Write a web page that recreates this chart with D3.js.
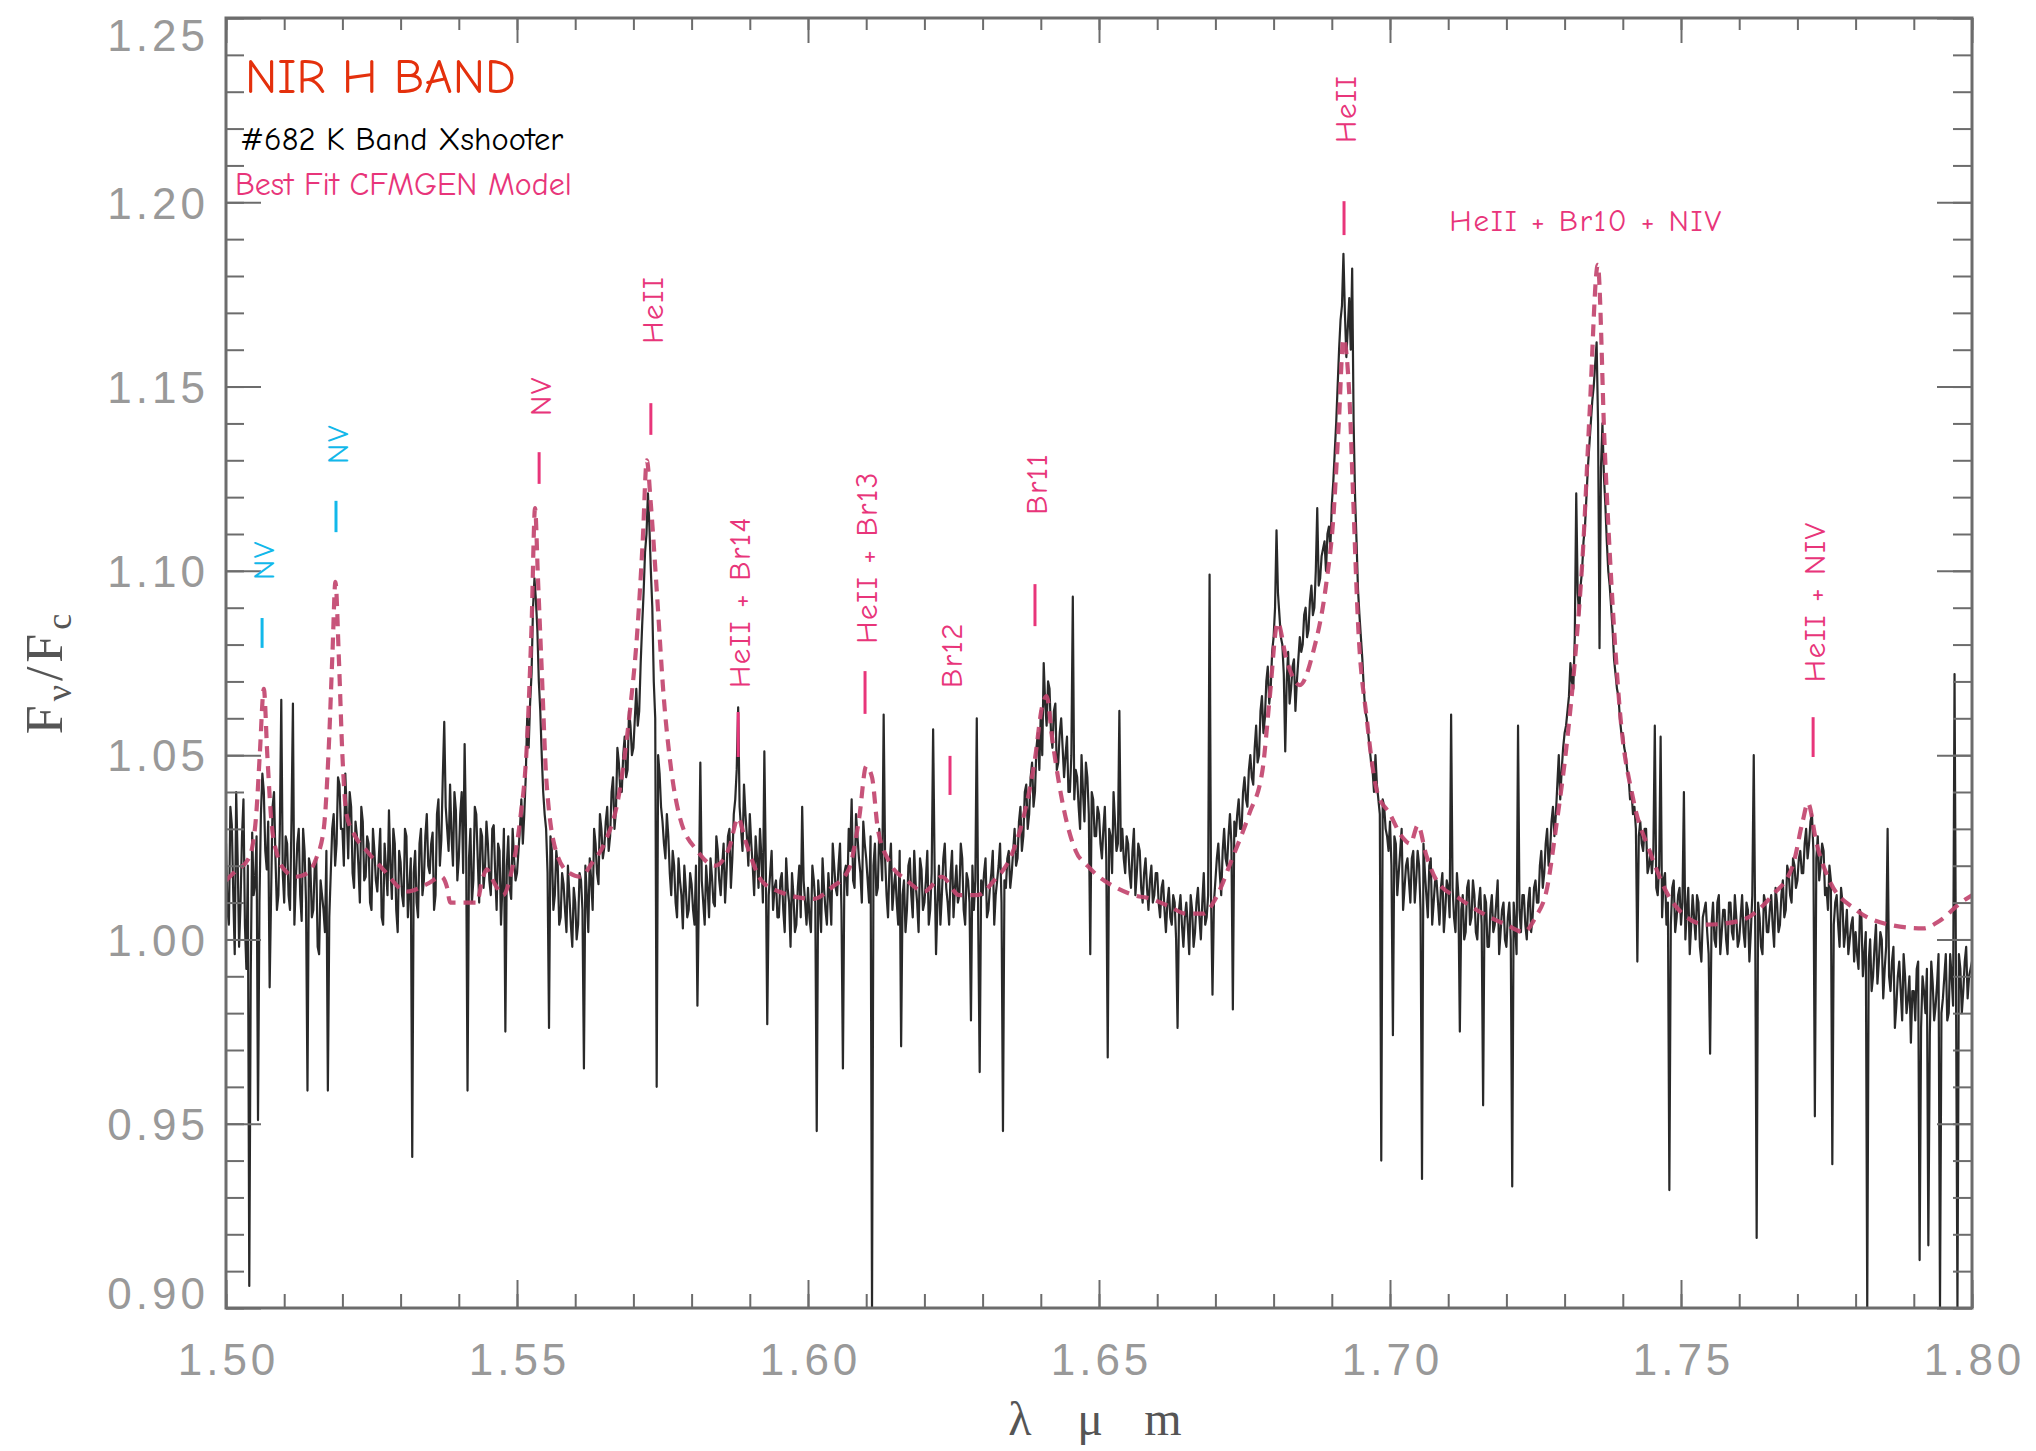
<!DOCTYPE html>
<html>
<head>
<meta charset="utf-8">
<script src="https://cdn.jsdelivr.net/npm/d3@7"></script>
<style>
  html, body { margin: 0; padding: 0; background: #ffffff; }
  svg { display: block; }
</style>
</head>
<body>
<svg id="chart" width="2036" height="1451"></svg>
<script>
// ---------------- data ----------------
// Observed spectrum (#682, X-shooter). Two interleaved sample grids:
// grid A starts at 1.50000, grid B at 1.50025, both with a 0.0005 micron step.
const obsStep = 0.0005;
const obsStartA = 1.50000;
const obsFluxA = [
  1.026, 1.004, 1.031, 0.996, 1.022, 1.010, 1.038, 0.992, 0.906, 1.029,
  1.015, 0.951, 1.034, 1.040, 1.019, 0.987, 1.036, 1.022, 1.012, 1.065,
  1.010, 1.026, 1.008, 1.064, 1.016, 1.030, 1.005, 1.024, 0.959, 1.020,
  1.008, 1.022, 0.996, 1.012, 1.002, 0.959, 1.018, 1.034, 1.026, 1.042,
  1.030, 1.045, 1.022, 1.036, 1.014, 1.028, 1.010, 1.032, 1.017, 1.026,
  1.008, 1.024, 1.013, 1.030, 1.004, 1.019, 1.035, 1.011, 1.026, 1.002,
  1.021, 1.009, 1.028, 1.014, 0.941, 1.024, 1.006, 1.030, 1.016, 1.034,
  1.018, 1.029, 1.012, 1.038, 1.027, 1.059, 1.030, 1.042, 1.020, 1.035,
  1.022, 1.040, 1.053, 0.959, 1.030, 1.016, 1.034, 1.010, 1.028, 1.019,
  1.026, 1.012, 1.031, 1.008, 1.024, 1.015, 0.975, 1.028, 1.011, 1.022,
  1.018, 1.030, 1.026, 1.044, 1.052, 1.072, 1.098, 1.084, 1.062, 1.040,
  1.030, 0.976, 1.024, 1.012, 1.020, 1.006, 1.015, 1.002, 1.012, 0.998,
  1.010, 1.004, 1.016, 0.965, 1.012, 1.022, 1.008, 1.026, 1.015, 1.030,
  1.025, 1.036, 1.028, 1.044, 1.035, 1.048, 1.040, 1.055, 1.046, 1.058,
  1.052, 1.068, 1.062, 1.085, 1.105, 1.121, 1.100, 1.070, 0.960, 1.045,
  1.032, 1.022, 1.028, 1.012, 1.020, 1.006, 1.016, 1.003, 1.014, 1.008,
  1.015, 1.004, 0.982, 1.048, 1.010, 1.020, 1.006, 1.017, 1.009, 1.024,
  1.012, 1.026, 1.018, 1.030, 1.022, 1.038, 1.063, 1.030, 1.042, 1.028,
  1.034, 1.020, 1.028, 1.014, 1.022, 1.051, 0.977, 1.018, 1.008, 1.016,
  1.006, 1.018, 1.002, 1.014, 0.998, 1.012, 1.004, 1.020, 1.036, 1.010,
  1.014, 1.002, 1.016, 0.948, 1.010, 1.022, 1.008, 1.018, 1.004, 1.020,
  1.012, 1.026, 0.965, 1.020, 1.030, 1.038, 1.014, 1.028, 1.018, 1.032,
  1.022, 1.010, 0.900, 1.026, 1.014, 1.024, 1.061, 1.012, 1.020, 1.008,
  1.018, 1.004, 0.971, 1.016, 1.008, 1.022, 1.006, 1.015, 1.002, 1.019,
  1.010, 1.024, 1.008, 1.057, 0.996, 1.020, 1.012, 1.026, 1.010, 1.018,
  1.006, 1.020, 1.012, 1.022, 1.004, 1.016, 0.978, 1.008, 1.060, 0.964,
  1.012, 1.022, 1.008, 1.018, 1.004, 1.016, 1.026, 0.948, 1.014, 1.024,
  1.018, 1.030, 1.022, 1.036, 1.028, 1.042, 1.034, 1.048, 1.040, 1.056,
  1.062, 1.075, 1.058, 1.068, 1.052, 1.064, 1.048, 1.060, 1.044, 1.055,
  1.040, 1.093, 1.046, 1.036, 1.050, 1.032, 1.044, 0.996, 1.038, 1.028,
  1.034, 1.022, 1.036, 0.968, 1.028, 1.040, 1.024, 1.062, 1.030, 1.018,
  1.026, 1.014, 1.030, 1.018, 1.024, 1.010, 1.022, 1.008, 1.020, 1.012,
  1.018, 1.006, 1.016, 1.002, 1.014, 1.004, 1.010, 0.976, 1.012, 0.998,
  1.010, 0.996, 1.008, 1.002, 1.014, 1.000, 1.018, 1.006, 1.099, 0.985,
  1.016, 1.026, 1.012, 1.030, 1.020, 1.034, 0.981, 1.028, 1.038, 1.030,
  1.044, 1.036, 1.050, 1.042, 1.058, 1.050, 1.066, 1.060, 1.074, 1.068,
  1.082, 1.111, 1.088, 1.080, 1.051, 1.078, 1.068, 1.076, 1.070, 1.082,
  1.080, 1.090, 1.084, 1.096, 1.090, 1.117, 1.098, 1.106, 1.100, 1.112,
  1.118, 1.132, 1.150, 1.168, 1.186, 1.158, 1.174, 1.182, 1.120, 1.095,
  1.082, 1.068, 1.060, 1.052, 1.046, 1.050, 1.038, 0.940, 1.036, 1.028,
  1.032, 0.974, 1.026, 1.018, 1.030, 1.014, 1.022, 1.010, 1.024, 1.016,
  1.020, 0.935, 1.018, 1.006, 1.022, 1.010, 1.016, 1.004, 1.018, 1.008,
  1.014, 1.061, 1.006, 1.018, 0.975, 1.012, 1.002, 1.016, 1.006, 1.012,
  1.000, 1.014, 0.955, 1.010, 0.998, 1.012, 1.004, 1.016, 1.002, 1.010,
  0.998, 1.010, 0.933, 1.004, 1.058, 1.002, 1.012, 1.000, 1.014, 1.006,
  1.016, 1.010, 1.024, 1.018, 1.030, 1.024, 1.036, 1.034, 1.050, 1.046,
  1.056, 1.062, 1.075, 1.068, 1.121, 1.088, 1.100, 1.112, 1.128, 1.140,
  1.150, 1.162, 1.079, 1.140, 1.118, 1.100, 1.090, 1.076, 1.068, 1.060,
  1.056, 1.050, 1.044, 1.040, 1.036, 0.994, 1.032, 1.024, 1.030, 1.020,
  1.018, 1.058, 1.012, 1.055, 1.016, 1.004, 0.932, 1.014, 1.002, 1.012,
  1.004, 1.040, 1.008, 0.996, 1.012, 1.000, 1.010, 0.994, 1.008, 1.002,
  0.969, 1.010, 0.998, 1.012, 1.002, 1.008, 0.996, 1.010, 1.000, 1.006,
  1.000, 1.012, 0.998, 1.008, 1.002, 1.050, 0.919, 1.006, 0.996, 1.010,
  1.002, 1.012, 0.998, 1.010, 1.004, 1.016, 1.008, 1.018, 1.010, 1.020,
  1.016, 1.024, 1.018, 1.030, 1.026, 1.034, 0.952, 1.028, 1.020, 1.024,
  1.014, 1.020, 0.939, 1.010, 1.004, 1.014, 0.998, 1.008, 1.000, 1.006,
  1.002, 0.992, 1.006, 0.996, 0.900, 1.000, 0.990, 1.004, 0.994, 1.000,
  0.992, 1.030, 0.986, 0.998, 0.982, 0.994, 0.978, 0.990, 0.984, 0.972,
  0.986, 0.992, 0.913, 0.990, 0.980, 0.917, 0.994, 0.978, 0.988, 0.900,
  0.984, 0.996, 0.980, 0.990, 1.072, 0.900, 0.992, 0.986, 0.998, 0.990,
  0.994
];
const obsStartB = 1.50025;
const obsFluxB = [
  1.008, 1.036, 1.012, 1.040, 0.998, 1.028, 1.004, 1.020, 0.990, 1.012,
  1.028, 1.010, 1.045, 1.024, 1.032, 1.012, 1.040, 1.008, 1.030, 1.018,
  1.028, 1.012, 1.032, 1.004, 1.026, 1.012, 1.030, 1.010, 1.022, 1.006,
  1.020, 0.998, 1.016, 1.008, 1.024, 1.006, 1.030, 1.020, 1.044, 1.030,
  1.020, 1.034, 1.040, 1.018, 1.032, 1.020, 1.036, 1.016, 1.028, 1.010,
  1.030, 1.016, 1.022, 1.006, 1.026, 1.012, 1.020, 1.030, 1.008, 1.024,
  1.012, 1.030, 1.006, 1.022, 1.018, 1.010, 1.026, 1.012, 1.028, 1.020,
  1.026, 1.008, 1.034, 1.020, 1.044, 1.036, 1.024, 1.028, 1.040, 1.016,
  1.034, 1.018, 1.028, 1.022, 1.010, 1.036, 1.022, 1.030, 1.014, 1.032,
  1.016, 1.030, 1.018, 1.026, 1.004, 1.030, 1.020, 1.014, 1.030, 1.016,
  1.024, 1.038, 1.034, 1.060, 1.064, 1.090, 1.092, 1.070, 1.050, 1.034,
  1.018, 1.028, 1.008, 1.024, 1.004, 1.018, 1.008, 1.020, 1.004, 1.014,
  1.000, 1.018, 1.008, 1.020, 1.002, 1.016, 1.030, 1.018, 1.034, 1.022,
  1.032, 1.024, 1.040, 1.030, 1.052, 1.040, 1.050, 1.044, 1.062, 1.050,
  1.060, 1.058, 1.075, 1.094, 1.110, 1.112, 1.090, 1.060, 1.050, 1.036,
  1.026, 1.034, 1.018, 1.024, 1.010, 1.022, 1.012, 1.020, 1.006, 1.018,
  1.008, 1.020, 1.012, 1.016, 1.004, 1.014, 1.022, 1.010, 1.028, 1.016,
  1.020, 1.010, 1.028, 1.014, 1.034, 1.046, 1.036, 1.024, 1.034, 1.020,
  1.026, 1.012, 1.022, 1.030, 1.010, 1.020, 1.012, 1.024, 1.014, 1.006,
  1.016, 1.008, 1.022, 1.010, 1.018, 1.002, 1.014, 1.006, 1.016, 1.004,
  1.006, 1.020, 1.010, 1.016, 1.002, 1.014, 1.004, 1.012, 1.026, 1.014,
  1.020, 1.008, 1.018, 1.012, 1.024, 1.016, 1.034, 1.022, 1.010, 1.026,
  1.016, 1.028, 1.020, 1.012, 1.030, 1.016, 1.022, 1.006, 1.026, 1.014,
  1.010, 1.024, 1.012, 1.002, 1.020, 1.012, 1.024, 1.010, 1.022, 1.008,
  1.016, 1.004, 1.018, 1.020, 1.010, 1.004, 1.022, 1.014, 1.004, 1.024,
  1.014, 1.010, 1.026, 1.008, 1.018, 1.010, 1.020, 1.016, 1.004, 1.016,
  1.018, 1.006, 1.014, 1.024, 1.012, 1.020, 1.010, 1.016, 1.022, 1.014,
  1.024, 1.020, 1.032, 1.024, 1.040, 1.030, 1.044, 1.036, 1.052, 1.046,
  1.050, 1.064, 1.070, 1.056, 1.062, 1.046, 1.056, 1.052, 1.050, 1.040,
  1.050, 1.038, 1.044, 1.030, 1.040, 1.048, 1.034, 1.040, 1.028, 1.036,
  1.026, 1.030, 1.022, 1.030, 1.018, 1.032, 1.026, 1.024, 1.022, 1.028,
  1.018, 1.024, 1.012, 1.026, 1.014, 1.018, 1.014, 1.016, 1.010, 1.018,
  1.010, 1.014, 1.008, 1.010, 1.006, 1.012, 1.000, 1.008, 1.004, 1.006,
  1.004, 1.012, 0.998, 1.010, 1.006, 1.010, 1.004, 1.012, 1.012, 1.010,
  1.022, 1.018, 1.024, 1.022, 1.028, 1.026, 1.032, 1.034, 1.030, 1.040,
  1.038, 1.046, 1.044, 1.052, 1.048, 1.062, 1.056, 1.070, 1.064, 1.078,
  1.090, 1.094, 1.082, 1.072, 1.070, 1.064, 1.074, 1.062, 1.076, 1.078,
  1.088, 1.082, 1.092, 1.088, 1.100, 1.096, 1.104, 1.108, 1.110, 1.106,
  1.124, 1.140, 1.160, 1.172, 1.170, 1.166, 1.160, 1.140, 1.108, 1.088,
  1.076, 1.062, 1.056, 1.048, 1.040, 1.042, 1.034, 1.038, 1.030, 1.024,
  1.020, 1.028, 1.012, 1.024, 1.008, 1.020, 1.016, 1.022, 1.010, 1.024,
  1.008, 1.026, 1.012, 1.020, 1.004, 1.016, 1.010, 1.014, 1.002, 1.016,
  1.006, 1.014, 1.002, 1.012, 1.008, 1.000, 1.014, 1.004, 1.016, 1.002,
  1.010, 1.004, 1.012, 0.998, 1.008, 1.002, 1.010, 0.996, 1.008, 1.000,
  1.006, 1.000, 1.010, 0.996, 1.008, 1.012, 1.004, 1.010, 1.002, 1.014,
  1.010, 1.020, 1.014, 1.026, 1.020, 1.032, 1.028, 1.042, 1.038, 1.052,
  1.058, 1.066, 1.070, 1.082, 1.094, 1.096, 1.108, 1.120, 1.134, 1.146,
  1.156, 1.140, 1.128, 1.126, 1.108, 1.096, 1.084, 1.072, 1.066, 1.056,
  1.052, 1.046, 1.038, 1.034, 1.030, 1.028, 1.026, 1.030, 1.018, 1.024,
  1.024, 1.014, 1.020, 1.006, 1.018, 1.010, 1.004, 1.016, 1.006, 1.014,
  1.010, 1.000, 1.014, 1.004, 1.006, 1.012, 0.998, 1.006, 1.010, 0.996,
  1.004, 1.000, 1.010, 0.996, 1.008, 1.000, 1.010, 1.002, 1.012, 0.998,
  1.006, 1.002, 1.010, 0.994, 1.012, 1.004, 1.010, 0.998, 1.012, 1.002,
  1.008, 1.004, 1.014, 1.002, 1.012, 1.006, 1.020, 1.012, 1.022, 1.014,
  1.022, 1.018, 1.026, 1.022, 1.032, 1.024, 1.022, 1.016, 1.026, 1.012,
  1.008, 1.016, 1.004, 1.012, 0.998, 1.010, 1.002, 0.996, 1.004, 0.994,
  0.996, 1.008, 0.990, 1.002, 0.994, 0.986, 0.998, 0.988, 1.002, 0.984,
  0.998, 0.990, 0.994, 0.976, 0.990, 0.986, 0.996, 0.980, 0.990, 0.986,
  0.978, 0.994, 0.976, 0.986, 0.992, 0.974, 0.988, 0.982, 0.996, 0.980,
  0.990, 0.978, 0.996, 0.982, 0.988, 0.996, 0.980, 0.994, 0.984, 0.992
];

// Best-fit CMFGEN model
const modelWave = [
  1.5000, 1.5020, 1.5035, 1.5045, 1.5052, 1.5058, 1.5065, 1.5071, 1.5078, 1.5088,
  1.5100, 1.5120, 1.5140, 1.5155, 1.5168, 1.5176, 1.5183, 1.5188, 1.5194, 1.5200,
  1.5207, 1.5222, 1.5242, 1.5270, 1.5311, 1.5345, 1.5370, 1.5380, 1.5385, 1.5431,
  1.5440, 1.5448, 1.5462, 1.5476, 1.5490, 1.5505, 1.5517, 1.5525, 1.5531, 1.5536,
  1.5542, 1.5551, 1.5569, 1.5590, 1.5609, 1.5630, 1.5650, 1.5676, 1.5694, 1.5706,
  1.5716, 1.5723, 1.5730, 1.5740, 1.5752, 1.5765, 1.5780, 1.5810, 1.5840, 1.5865,
  1.5880, 1.5892, 1.5920, 1.5950, 1.6010, 1.6040, 1.6070, 1.6088, 1.6100, 1.6110,
  1.6120, 1.6140, 1.6170, 1.6200, 1.6230, 1.6260, 1.6290, 1.6320, 1.6350, 1.6370,
  1.6390, 1.6402, 1.6410, 1.6420, 1.6440, 1.6460, 1.6480, 1.6500, 1.6530, 1.6560,
  1.6590, 1.6620, 1.6650, 1.6680, 1.6700, 1.6729, 1.6758, 1.6781, 1.6793, 1.6807,
  1.6822, 1.6845, 1.6868, 1.6890, 1.6902, 1.6912, 1.6920, 1.6930, 1.6936, 1.6945,
  1.6960, 1.6978, 1.7000, 1.7020, 1.7035, 1.7048, 1.7062, 1.7080, 1.7120, 1.7160,
  1.7200, 1.7230, 1.7250, 1.7270, 1.7285, 1.7303, 1.7320, 1.7331, 1.7343, 1.7357,
  1.7369, 1.7381, 1.7395, 1.7418, 1.7446, 1.7486, 1.7543, 1.7600, 1.7657, 1.7692,
  1.7709, 1.7718, 1.7733, 1.7755, 1.7801, 1.7858, 1.7916, 1.7944, 1.7981, 1.8000
];
const modelFlux = [
  1.016, 1.019, 1.021, 1.025, 1.034, 1.050, 1.068, 1.050, 1.032, 1.023,
  1.019, 1.017, 1.018, 1.022, 1.030, 1.050, 1.078, 1.097, 1.076, 1.050,
  1.034, 1.028, 1.024, 1.019, 1.013, 1.015, 1.017, 1.014, 1.010, 1.010,
  1.016, 1.019, 1.015, 1.012, 1.018, 1.032, 1.053, 1.085, 1.117, 1.098,
  1.075, 1.042, 1.023, 1.018, 1.017, 1.021, 1.026, 1.040, 1.062, 1.082,
  1.108, 1.130, 1.118, 1.095, 1.066, 1.046, 1.033, 1.024, 1.020, 1.025,
  1.033, 1.027, 1.016, 1.013, 1.011, 1.014, 1.019, 1.033, 1.047, 1.044,
  1.030, 1.021, 1.016, 1.013, 1.017, 1.012, 1.012, 1.016, 1.023, 1.033,
  1.049, 1.063, 1.066, 1.054, 1.035, 1.024, 1.020, 1.017, 1.014, 1.012,
  1.011, 1.009, 1.007, 1.007, 1.011, 1.022, 1.034, 1.046, 1.065, 1.086,
  1.076, 1.069, 1.078, 1.096, 1.113, 1.140, 1.163, 1.148, 1.123, 1.086,
  1.060, 1.040, 1.034, 1.028, 1.026, 1.031, 1.023, 1.016, 1.011, 1.007,
  1.004, 1.002, 1.006, 1.014, 1.030, 1.052, 1.080, 1.104, 1.143, 1.183,
  1.133, 1.095, 1.062, 1.038, 1.024, 1.010, 1.004, 1.005, 1.012, 1.020,
  1.032, 1.037, 1.026, 1.016, 1.008, 1.004, 1.003, 1.005, 1.010, 1.012
];

// Axis ticks
const xTicks = [1.50, 1.55, 1.60, 1.65, 1.70, 1.75, 1.80];
const xTickLabels = ["1.50", "1.55", "1.60", "1.65", "1.70", "1.75", "1.80"];
const yTicks = [0.90, 0.95, 1.00, 1.05, 1.10, 1.15, 1.20, 1.25];
const yTickLabels = ["0.90", "0.95", "1.00", "1.05", "1.10", "1.15", "1.20", "1.25"];

// Line identifications: wavelength, flux of the label base, marker top/bottom
const lineNames   = ["NV", "NV", "NV", "HeII", "HeII + Br14", "HeII + Br13", "Br12", "Br11", "HeII", "HeII + NIV"];
const lineSet     = ["extra", "extra", "fit", "fit", "fit", "fit", "fit", "fit", "fit", "fit"];
const lineWave    = [1.5062, 1.5189, 1.5538, 1.5730, 1.5880, 1.6098, 1.6244, 1.6390, 1.6921, 1.7727];
const lineTextAt  = [1.0975, 1.1290, 1.1420, 1.1616, 1.0682, 1.0802, 1.0682, 1.1152, 1.2161, 1.0698];
const lineMarkTop = [1.0872, 1.1190, 1.1322, 1.1455, 1.0617, 1.0728, 1.0498, 1.0964, 1.2003, 1.0603];
const lineMarkBot = [1.0791, 1.1105, 1.1236, 1.1369, 1.0495, 1.0612, 1.0392, 1.0850, 1.1911, 1.0495];

const blendName = "HeII + Br10 + NIV";
const blendWave = 1.7337;
const blendFlux = 1.1922;

// ---------------- layout ----------------
const W = 2036, H = 1451;
const plot = { left: 226, right: 1972, top: 18, bottom: 1308 };

const svg = d3.select("#chart");
svg.append("rect").attr("width", W).attr("height", H).attr("fill", "#ffffff");

const x = d3.scaleLinear().domain([1.50, 1.80]).range([plot.left, plot.right]);
const y = d3.scaleLinear().domain([0.90, 1.25]).range([plot.bottom, plot.top]);

const axisColor = "#6c6c6c";
const labelColor = "#999999";
const pink = "#e8357a";
const cyan = "#12b8ea";

svg.append("clipPath").attr("id", "plotClip")
  .append("rect")
  .attr("x", plot.left).attr("y", plot.top)
  .attr("width", plot.right - plot.left).attr("height", plot.bottom - plot.top);

// ---- spectra ----
const obs = obsFluxA.map((f, i) => ({ w: obsStartA + i * obsStep, f }))
  .concat(obsFluxB.map((f, i) => ({ w: obsStartB + i * obsStep, f })))
  .sort((a, b) => a.w - b.w);
const model = modelWave.map((w, i) => ({ w, f: modelFlux[i] }));

const plotG = svg.append("g").attr("clip-path", "url(#plotClip)");

plotG.append("path")
  .datum(obs)
  .attr("d", d3.line().x(d => x(d.w)).y(d => y(d.f)))
  .attr("fill", "none")
  .attr("stroke", "#121212")
  .attr("stroke-width", 2.2)
  .attr("stroke-linejoin", "round")
  .attr("opacity", 0.9);

plotG.append("path")
  .datum(model)
  .attr("d", d3.line().x(d => x(d.w)).y(d => y(d.f)).curve(d3.curveMonotoneX))
  .attr("fill", "none")
  .attr("stroke", "#c2456f")
  .attr("stroke-width", 4.2)
  .attr("stroke-dasharray", "12,8")
  .attr("opacity", 0.92);

// ---- axes ----
function styleAxis(g) {
  g.select(".domain").remove();
  g.selectAll(".tick line").attr("stroke", axisColor).attr("stroke-width", 2);
  g.selectAll(".tick text")
    .attr("fill", labelColor)
    .style("font-family", "'Liberation Sans', Arial, Helvetica, sans-serif")
    .style("font-size", "44px")
    .style("letter-spacing", "4px");
}

const xMinor = d3.range(1.50, 1.8001, 0.01);
const yMinor = d3.range(0.90, 1.2501, 0.01);

// bottom
svg.append("g").attr("transform", `translate(0,${plot.bottom})`)
  .call(d3.axisBottom(x).tickValues(xMinor).tickSize(-14).tickFormat(""))
  .call(styleAxis);
svg.append("g").attr("transform", `translate(0,${plot.bottom})`)
  .call(d3.axisBottom(x).tickValues(xTicks).tickSize(-28).tickPadding(36)
        .tickFormat((d, i) => xTickLabels[i]))
  .call(styleAxis)
  .selectAll(".tick text").attr("dx", "2px");

// top
svg.append("g").attr("transform", `translate(0,${plot.top})`)
  .call(d3.axisTop(x).tickValues(xMinor).tickSize(-12).tickFormat(""))
  .call(styleAxis);
svg.append("g").attr("transform", `translate(0,${plot.top})`)
  .call(d3.axisTop(x).tickValues(xTicks).tickSize(-25).tickFormat(""))
  .call(styleAxis);

// left
svg.append("g").attr("transform", `translate(${plot.left},0)`)
  .call(d3.axisLeft(y).tickValues(yMinor).tickSize(-18).tickFormat(""))
  .call(styleAxis);
const yAxisG = svg.append("g").attr("transform", `translate(${plot.left},0)`)
  .call(d3.axisLeft(y).tickValues(yTicks).tickSize(-35).tickPadding(17)
        .tickFormat((d, i) => yTickLabels[i]))
  .call(styleAxis);
// end labels are nudged inside the frame
yAxisG.selectAll(".tick text")
  .attr("dy", d => d >= 1.2499 ? "0.74em" : (d <= 0.9001 ? "0.0em" : "0.36em"));

// right
svg.append("g").attr("transform", `translate(${plot.right},0)`)
  .call(d3.axisRight(y).tickValues(yMinor).tickSize(-19).tickFormat(""))
  .call(styleAxis);
svg.append("g").attr("transform", `translate(${plot.right},0)`)
  .call(d3.axisRight(y).tickValues(yTicks).tickSize(-35).tickFormat(""))
  .call(styleAxis);

// frame
svg.append("rect")
  .attr("x", plot.left).attr("y", plot.top)
  .attr("width", plot.right - plot.left).attr("height", plot.bottom - plot.top)
  .attr("fill", "none").attr("stroke", axisColor).attr("stroke-width", 3);

// ---- axis titles ----
const serif = "'Liberation Serif', 'Times New Roman', Times, serif";
const xTitle = svg.append("g").attr("fill", "#555555")
  .style("font-family", serif).style("font-size", "48px");
xTitle.append("text").attr("x", 1020).attr("y", 1435).attr("text-anchor", "middle").text("λ");
xTitle.append("text").attr("x", 1090).attr("y", 1435).attr("text-anchor", "middle").text("μ");
xTitle.append("text").attr("x", 1163).attr("y", 1435).attr("text-anchor", "middle").text("m");

const yTitle = svg.append("text")
  .attr("transform", "translate(62,672) rotate(-90)")
  .attr("text-anchor", "middle")
  .attr("fill", "#555555")
  .style("font-family", serif)
  .style("font-size", "52px")
  .style("letter-spacing", "4px");
yTitle.append("tspan").text("F");
yTitle.append("tspan").attr("dy", "9").style("font-size", "36px").text("ν");
yTitle.append("tspan").attr("dy", "-9").text("/F");
yTitle.append("tspan").attr("dy", "9").style("font-size", "36px").text("c");

// ---- legend text ----
const hand = "'Comic Sans MS', 'Comic Neue', 'Open Sans', sans-serif";
svg.append("text").attr("x", 245).attr("y", 93)
  .attr("fill", "#e4300c").style("font-family", hand).style("font-size", "49px")
  .text("NIR H BAND");
svg.append("text").attr("x", 240).attr("y", 150)
  .attr("fill", "#000000").style("font-family", hand).style("font-size", "32.5px")
  .text("#682 K Band Xshooter");
svg.append("text").attr("x", 235).attr("y", 195)
  .attr("fill", pink).style("font-family", hand).style("font-size", "32px")
  .text("Best Fit CFMGEN Model");

// ---- line identifications ----
const ids = lineNames.map((name, i) => ({
  name, set: lineSet[i], w: lineWave[i],
  t: lineTextAt[i], m0: lineMarkTop[i], m1: lineMarkBot[i]
}));
const idG = svg.append("g");
idG.selectAll("line.mark").data(ids).join("line")
  .attr("class", "mark")
  .attr("x1", d => x(d.w)).attr("x2", d => x(d.w))
  .attr("y1", d => y(d.m0)).attr("y2", d => y(d.m1))
  .attr("stroke", d => d.set === "extra" ? cyan : pink)
  .attr("stroke-width", 3);
idG.selectAll("text.id").data(ids).join("text")
  .attr("class", "id")
  .attr("transform", d => `translate(${x(d.w) + 2},${y(d.t)}) rotate(-90)`)
  .attr("dominant-baseline", "central")
  .attr("fill", d => d.set === "extra" ? cyan : pink)
  .style("font-family", hand)
  .style("font-size", "31px")
  .style("letter-spacing", "1.5px")
  .text(d => d.name);

svg.append("text")
  .attr("x", x(blendWave)).attr("y", y(blendFlux))
  .attr("text-anchor", "middle")
  .attr("fill", pink)
  .style("font-family", hand)
  .style("font-size", "31px")
  .style("letter-spacing", "1.8px")
  .text(blendName);
</script>
</body>
</html>
